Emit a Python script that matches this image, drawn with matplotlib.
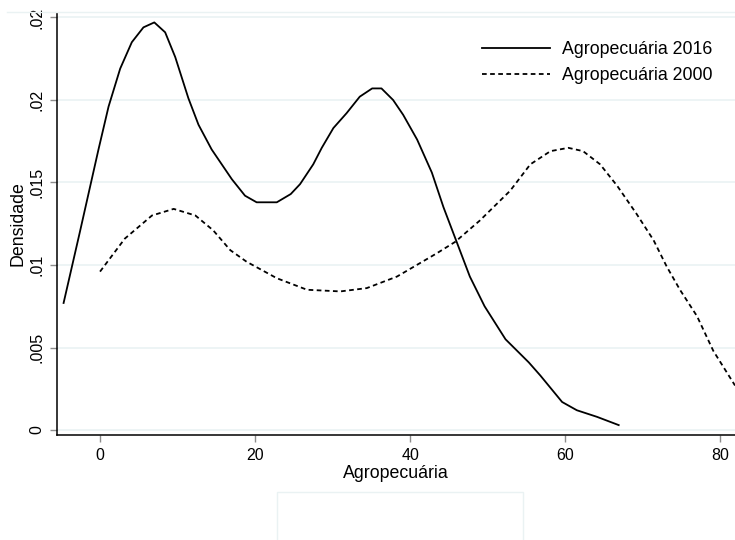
import matplotlib
matplotlib.use("Agg")
import matplotlib.pyplot as plt
from matplotlib.lines import Line2D
from matplotlib.patches import Rectangle

plt.rcParams["font.family"] = ["Liberation Sans", "DejaVu Sans"]

# kernel density, 2016
x2016 = [-4.7, -2.6, -0.2, 1.1, 2.6, 4.1, 5.6, 7.0, 8.4, 9.7, 11.4, 12.7, 14.4,
         17.0, 18.7, 20.2, 22.8, 24.6, 25.8, 27.5, 28.6, 30.1, 31.8, 33.5, 35.1,
         36.3, 37.8, 39.1, 40.9, 42.8, 44.3, 46.0, 47.7, 49.6, 52.3, 55.3, 56.8,
         59.6, 61.5, 64.1, 66.9]
y2016 = [0.0077, 0.0120, 0.0170, 0.0196, 0.0219, 0.0235, 0.0244, 0.0247, 0.0241,
         0.0226, 0.0201, 0.0185, 0.0170, 0.0152, 0.0142, 0.0138, 0.0138, 0.0143,
         0.0149, 0.0161, 0.0171, 0.0183, 0.0192, 0.0202, 0.0207, 0.0207, 0.0200,
         0.0191, 0.0176, 0.0156, 0.0135, 0.0114, 0.0093, 0.0075, 0.0055, 0.0041,
         0.0033, 0.0017, 0.0012, 0.0008, 0.0003]

# kernel density, 2000
x2000 = [0, 3.2, 6.7, 9.5, 12.3, 14.6, 16.8, 18.9, 22.8, 26.7, 31.0, 34.4, 38.3,
         43.4, 45.8, 49.0, 52.9, 55.5, 58.1, 60.4, 62.3, 64.5, 66.7, 69.2, 71.4,
         73.1, 74.8, 77.0, 79.1, 81.9]
y2000 = [0.0096, 0.0116, 0.0130, 0.0134, 0.0130, 0.0121, 0.0109, 0.0102, 0.0092,
         0.0085, 0.0084, 0.0086, 0.0093, 0.0107, 0.0114, 0.0127, 0.0145, 0.0161,
         0.0169, 0.0171, 0.0169, 0.0161, 0.0148, 0.0131, 0.0115, 0.0099, 0.0085,
         0.0069, 0.0048, 0.0027]

xticks = [0, 20, 40, 60, 80]
yticks = [0, 0.005, 0.01, 0.015, 0.02, 0.025]
ytick_labels = ["0", ".005", ".01", ".015", ".02", ".02"]

grid_col = "#eaf2f3"
tick_col = "#8c8c8c"

fig = plt.figure(figsize=(7.35, 5.4), dpi=100)
ax = fig.add_axes([57 / 735, 105 / 540, 1 - 57 / 735, (435 - 13) / 540])

ax.plot(x2016, y2016, color="black", lw=1.3, label="Agropecuária 2016")
ax.plot(x2000, y2000, color="black", lw=1.3, linestyle=(0, (2.6, 1.9)),
        label="Agropecuária 2000")

ax.set_xlim(-5.55, 81.9)
ax.set_ylim(-0.0003, 0.02527)

ax.set_xticks(xticks)
ax.set_yticks(yticks)
ax.set_yticklabels(ytick_labels, rotation=90, va="center")
ax.tick_params(axis="both", colors=tick_col, labelcolor="black", labelsize=11.5,
               length=5, width=1)
ax.tick_params(axis="y", pad=4)
ax.tick_params(axis="x", pad=4)

for y in yticks:
    ax.axhline(y, color=grid_col, lw=1.2, zorder=0)

ax.spines["top"].set_visible(False)
ax.spines["right"].set_visible(False)
ax.spines["left"].set_linewidth(1.1)
ax.spines["bottom"].set_linewidth(1.1)

ax.set_xlabel("Agropecuária", fontsize=12.8, labelpad=2)
ax.set_ylabel("Densidade", fontsize=12.8, labelpad=2)

leg = ax.legend(loc="upper right", bbox_to_anchor=(0.9906, 0.971), frameon=False,
                fontsize=12.8, handlelength=3.8, handletextpad=0.68,
                labelspacing=0.52)

# outer graph region border and empty box below
fig.add_artist(Line2D([7 / 735, 1], [1 - 12 / 540, 1 - 12 / 540],
                      transform=fig.transFigure, color=grid_col, lw=1))
fig.add_artist(Rectangle((277 / 735, -0.01), 246 / 735, 48 / 540 + 0.01,
                         transform=fig.transFigure, fill=False,
                         edgecolor=grid_col, lw=1))

fig.savefig("out.png", dpi=100, facecolor="white")
